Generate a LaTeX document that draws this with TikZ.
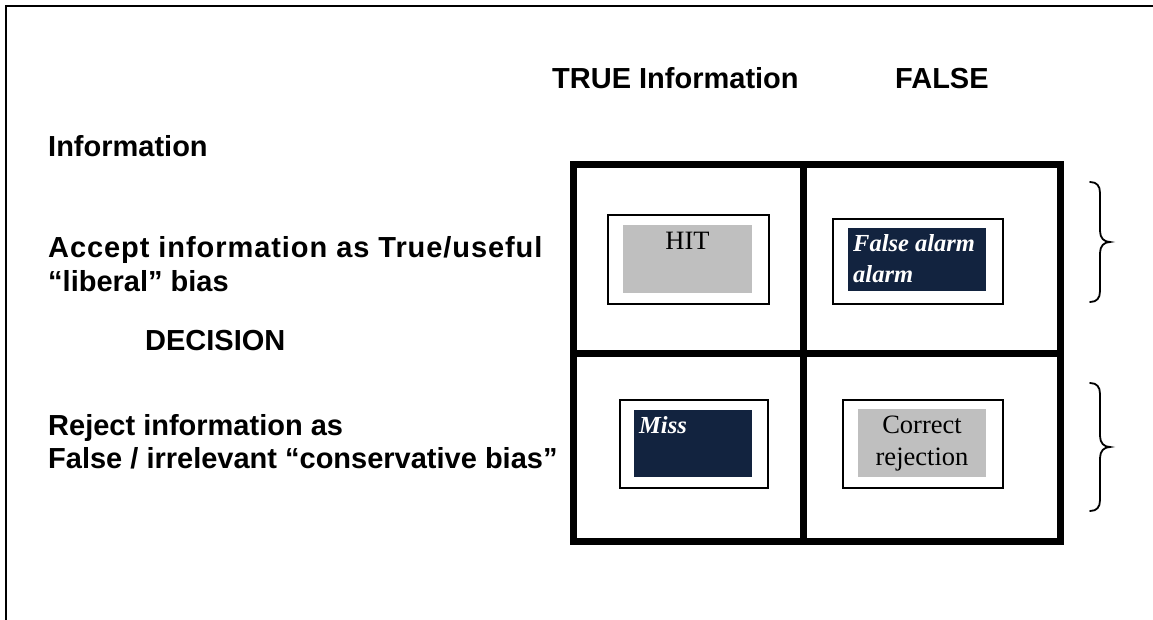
\documentclass[tikz,border=0pt]{standalone}
\usepackage{fontspec}
\setmainfont{Liberation Serif}
\setsansfont{Liberation Sans}
\definecolor{navy}{RGB}{18,35,63}
\definecolor{cellgray}{RGB}{191,191,191}
\begin{document}
\begin{tikzpicture}[x=1pt,y=-1pt,
  lbl/.style={anchor=base west, inner sep=0pt,
    font=\sffamily\bfseries\fontsize{29}{33}\selectfont},
  boxframe/.style={draw=black, line width=2pt, fill=white, inner sep=0pt,
    anchor=north west},
  lightcell/.style={fill=cellgray, inner sep=0pt, anchor=north west},
  darkcell/.style={fill=navy, inner sep=0pt, anchor=north west},
  plaintext/.style={anchor=base, inner sep=0pt,
    font=\rmfamily\fontsize{26.5}{32}\selectfont},
  scripttext/.style={anchor=base west, inner sep=0pt, text=white,
    font=\rmfamily\bfseries\itshape\fontsize{24.5}{30}\selectfont},
  bracestroke/.style={line width=1.8pt, line cap=round}]

\useasboundingbox (0,0) rectangle (1153,620);

% page frame (top and left edges)
\draw[line width=2.2pt] (6,620) -- (6,6) -- (1153,6);

% column headings
\node[lbl] (colTrue) at (552,89) {TRUE Information};
\node[lbl] (colFalse) at (895,89) {FALSE};

% row headings
\node[lbl] (rowInfo) at (48,157) {Information};
\node[lbl] (rowAccA) at (48,258) {\addfontfeature{LetterSpace=3.2}Accept information as True/useful};
\node[lbl] (rowAccB) at (48,291) {“liberal” bias};
\node[lbl] (rowDec) at (145,350) {DECISION};
\node[lbl] (rowRejA) at (48,435) {Reject information as};
\node[lbl] (rowRejB) at (48,468) {False / irrelevant “conservative bias”};

% decision matrix
\draw[line width=7pt] (573,165) rectangle (1060.5,541);
\draw[line width=7pt] (803.5,165) -- (803.5,541);
\draw[line width=7pt] (573,353) -- (1060.5,353);

% HIT cell
\node[boxframe, minimum width=161pt, minimum height=89pt] (hitFrame) at (607,214) {};
\node[lightcell, minimum width=129pt, minimum height=68pt] (hitFill) at (623,225) {};
\node[plaintext] (hitText) at (687.5,250) {HIT};

% false alarm cell
\node[boxframe, minimum width=170pt, minimum height=85pt] (faFrame) at (832,218) {};
\node[darkcell, minimum width=138pt, minimum height=63pt] (faFill) at (848,228) {};
\node[scripttext] (faTextA) at (853,252) {False alarm};
\node[scripttext] (faTextB) at (853,282) {alarm};

% miss cell
\node[boxframe, minimum width=148pt, minimum height=88pt] (missFrame) at (619,399) {};
\node[darkcell, minimum width=118pt, minimum height=67pt] (missFill) at (634,410) {};
\node[scripttext] (missText) at (639,433) {Miss};

% correct rejection cell
\node[boxframe, minimum width=160pt, minimum height=88pt] (crFrame) at (842,399) {};
\node[lightcell, minimum width=128pt, minimum height=68pt] (crFill) at (858,409) {};
\node[plaintext] (crTextA) at (922,433) {Correct};
\node[plaintext] (crTextB) at (922,465) {rejection};

% right-hand braces
\draw[bracestroke] (1090,182) .. controls (1097,182) and (1100,186) .. (1100,193)
  -- (1100,231) .. controls (1100,238) and (1104,242) .. (1110,242)
  .. controls (1104,242) and (1100,246) .. (1100,253)
  -- (1100,291) .. controls (1100,298) and (1097,302) .. (1090,302);
\draw[bracestroke] (1090,383) .. controls (1097,383) and (1100,387) .. (1100,394)
  -- (1100,436) .. controls (1100,443) and (1104,447) .. (1110,447)
  .. controls (1104,447) and (1100,451) .. (1100,458)
  -- (1100,500) .. controls (1100,507) and (1097,511) .. (1090,511);
\end{tikzpicture}
\end{document}
